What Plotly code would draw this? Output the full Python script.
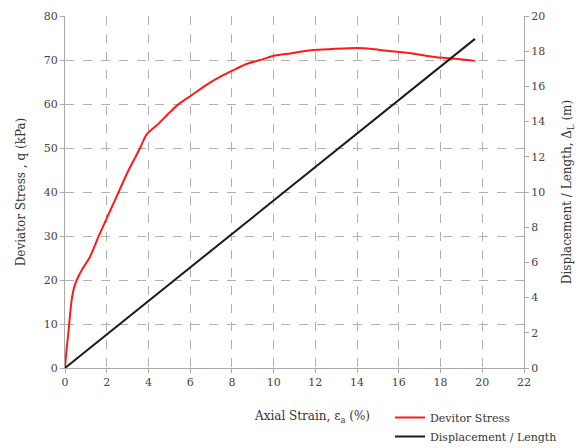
import plotly.graph_objects as go

strain = [0, 0.08, 0.16, 0.24, 0.32, 0.45, 0.64, 0.9, 1.2, 1.6, 2.0, 2.4, 3.0, 3.6, 3.9, 4.5, 5.0, 5.4, 6.07, 6.8, 7.6, 8.2, 8.7, 9.5, 10.07, 10.8, 11.3, 11.9, 12.8, 14.0, 14.7, 15.4, 16.5, 17.8, 18.7, 19.65]
stress = [0, 4.5, 7.9, 12.0, 15.5, 18.5, 20.8, 23.0, 25.3, 29.8, 34.0, 38.2, 44.5, 50.0, 53.0, 55.6, 58.0, 59.8, 62.0, 64.4, 66.6, 68.0, 69.1, 70.2, 71.0, 71.5, 71.9, 72.3, 72.5, 72.7, 72.5, 72.1, 71.6, 70.6, 70.3, 69.8]

disp_strain = [0, 19.65]
disp_len = [0, 18.7]

font = "DejaVu Serif"
fig = go.Figure()
fig.add_trace(go.Scatter(x=strain, y=stress, mode="lines", name="Devitor Stress",
                         line=dict(color="#ff1a1a", width=2, shape="spline", smoothing=0.6)))
fig.add_trace(go.Scatter(x=disp_strain, y=disp_len, mode="lines", name="Displacement / Length",
                         line=dict(color="#1a1a1a", width=2), yaxis="y2"))

grid = dict(showgrid=True, gridcolor="#b0b0b0", griddash="dash", gridwidth=1)
fig.update_layout(
    width=587, height=448,
    margin=dict(l=65, r=63, t=16, b=80, autoexpand=False),
    paper_bgcolor="white", plot_bgcolor="white",
    font=dict(family=font, size=12, color="#333"),
    xaxis=dict(range=[0, 22], dtick=2, tick0=0, showline=True, linecolor="#aaa", linewidth=1,
               ticks="outside", ticklen=4, tickcolor="#aaa", zeroline=False,
               tickfont=dict(family=font, size=11, color="#444"), **grid),
    yaxis=dict(range=[0, 80], dtick=10, showline=True, linecolor="#aaa", linewidth=1,
               ticks="outside", ticklen=4, tickcolor="#aaa", zeroline=False,
               tickfont=dict(family=font, size=11, color="#444"),
               title=dict(text="Deviator Stress , q (kPa)", font=dict(family=font, size=12, color="#333"), standoff=15),
               **grid),
    yaxis2=dict(range=[0, 20], dtick=2, overlaying="y", side="right", showgrid=False,
                showline=True, linecolor="#aaa", linewidth=1, ticks="outside", ticklen=4,
                tickcolor="#aaa", zeroline=False, tickfont=dict(family=font, size=11, color="#444"),
                title=dict(text="Displacement / Length, Δ<sub>L</sub> (m)", font=dict(family=font, size=12, color="#333"), standoff=18)),
    legend=dict(x=(390 - 65) / 459, y=-(403 - 368) / 352,
                xanchor="left", yanchor="top", bgcolor="rgba(0,0,0,0)",
                font=dict(family=font, size=11, color="#333"), tracegroupgap=0, itemwidth=30),
    annotations=[dict(text="Axial Strain, ε<sub>a</sub> (%)", x=(312 - 65) / 459, y=-(417 - 368) / 352,
                      xref="paper", yref="paper", yanchor="middle", xanchor="center",
                      showarrow=False, font=dict(family=font, size=12, color="#333"))],
)
fig.write_html("out.html")
